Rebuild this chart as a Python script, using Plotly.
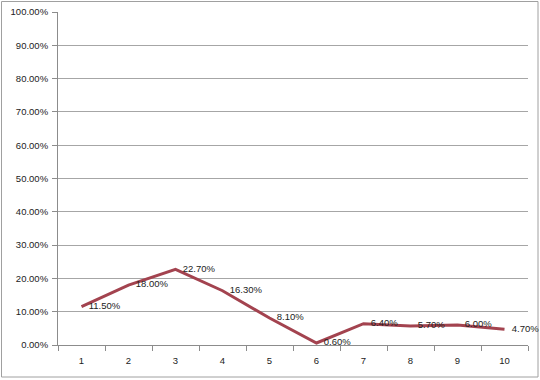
import plotly.graph_objects as go

categories = ["1", "2", "3", "4", "5", "6", "7", "8", "9", "10"]
values = [0.115, 0.18, 0.227, 0.163, 0.081, 0.006, 0.064, 0.057, 0.06, 0.047]
labels = ["11.50%", "18.00%", "22.70%", "16.30%", "8.10%", "0.60%", "6.40%", "5.70%", "6.00%", "4.70%"]

W, H = 540, 380
ml, mr, mt, mb = 58, 12, 12, 35
pw, ph = W - ml - mr, H - mt - mb

fig = go.Figure()
fig.add_trace(go.Scatter(
    x=categories, y=values, mode="lines+markers+text",
    text=labels, textposition="middle right",
    textfont=dict(family="Liberation Sans, Arial", size=9.5, color="#222222"),
    line=dict(color="#A3434F", width=3),
    marker=dict(size=10, opacity=0),
    hoverinfo="skip", showlegend=False, cliponaxis=False,
))

fig.update_layout(
    width=W, height=H,
    margin=dict(l=ml, r=mr, t=mt, b=mb, pad=0, autoexpand=False),
    paper_bgcolor="white", plot_bgcolor="white",
    font=dict(family="Liberation Sans, Arial", size=9.5, color="#222222"),
    xaxis=dict(
        type="category", tickson="boundaries", showgrid=False,
        showline=True, linecolor="#8c8c8c", linewidth=1,
        ticks="outside", ticklen=5, tickcolor="#8c8c8c",
        ticklabelstandoff=7,
        range=[-0.5, 9.5], fixedrange=True, automargin=False,
    ),
    yaxis=dict(
        range=[0, 1], dtick=0.1, tickformat=".2%",
        showgrid=True, gridcolor="#a6a6a6", gridwidth=1,
        showline=True, linecolor="#8c8c8c", linewidth=1,
        ticks="outside", ticklen=5, tickcolor="#8c8c8c",
        ticklabelstandoff=2,
        zeroline=False, fixedrange=True, automargin=False,
    ),
    shapes=[dict(
        type="rect", xref="paper", yref="paper",
        x0=(1.5 - ml) / pw, x1=(538 - ml) / pw,
        y0=(H - 377 - mb) / ph, y1=(H - 1.5 - mb) / ph,
        line=dict(color="#a0a0a0", width=1), layer="below",
    )],
)

fig.write_html(
    "out.html",
    config={"displayModeBar": False, "staticPlot": True},
    post_script="document.body.style.margin='0';document.body.style.overflow='hidden';",
)
